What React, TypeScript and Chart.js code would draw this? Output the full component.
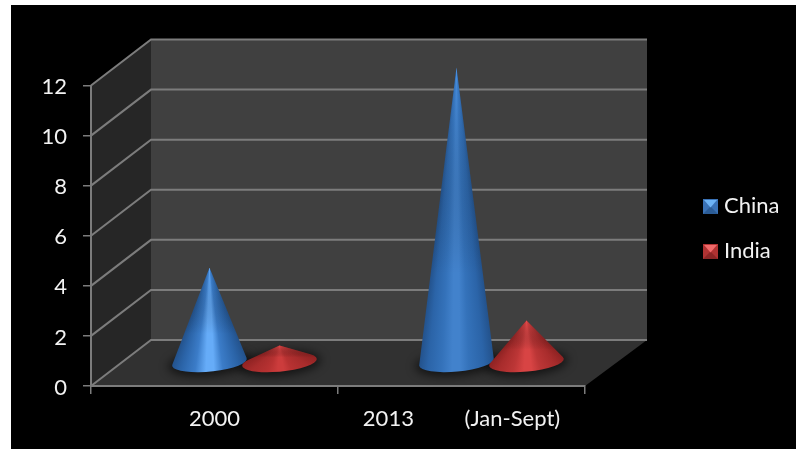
import React, { useEffect, useRef } from "react";
import { Chart, registerables } from "chart.js";

Chart.register(...registerables);

const categories = ["2000", "2013         (Jan-Sept)"];
const seriesNames = ["China", "India"];
const chinaValues = [3.8, 11.8];
const indiaValues = [0.7, 1.7];
const yTicks = [0, 2, 4, 6, 8, 10, 12];

const FONT = "Lato, 'Open Sans', sans-serif";
const FONT_SIZE = 22;
const TEXT = "#f2f2f2";
const LINE = "#7c7c7c";

// Depth of the box: how far the back wall sits from the front plane.
const DEPTH_X = 60;
const DEPTH_Y = -46;
const BACK_RIGHT = 647;

// Cone shading, one palette per series, per-category values where the sheen differs.
const palettes = [
  { edge: "#23528c", side: "#2b64a8", mid: ["#3b7cc8", "#3472ba"], hi: ["#66acf8", "#4282cc"], tip: "rgba(80,160,250,0.45)" },
  { edge: "#8e2222", side: "#a82c2c", mid: ["#b83232", "#bc3636"], hi: ["#cc3c3c", "#d84444"], tip: "rgba(250,85,85,0.55)" },
];

const ELLIPSE_TILT = -5.3 * (Math.PI / 180);
const MINOR_RATIO = 0.25;

function conePath(ctx: CanvasRenderingContext2D, tx: number, ty: number, cx: number, cy: number, a: number, b: number) {
  const cos = Math.cos(ELLIPSE_TILT);
  const sin = Math.sin(ELLIPSE_TILT);
  const dx = tx - cx;
  const dy = ty - cy;
  const lx = dx * cos + dy * sin;
  const ly = (-dx * sin + dy * cos) * (a / b);
  const phi = Math.atan2(ly, lx);
  const alpha = Math.acos(a / Math.hypot(lx, ly));
  ctx.beginPath();
  ctx.moveTo(tx, ty);
  ctx.ellipse(cx, cy, a, b, ELLIPSE_TILT, phi + alpha, phi - alpha + Math.PI * 2, false);
  ctx.closePath();
  // Directions from the apex to the two silhouette points.
  const pt = (t: number) => {
    const ex = a * Math.cos(t);
    const ey = b * Math.sin(t);
    return [cx + ex * cos - ey * sin, cy + ex * sin + ey * cos];
  };
  const r = pt(phi + alpha);
  const l = pt(phi - alpha);
  return [Math.atan2(r[1] - ty, r[0] - tx), Math.atan2(l[1] - ty, l[0] - tx)];
}

const boxPlugin = {
  id: "box",
  beforeDraw(chart: any) {
    const { ctx, chartArea: area, scales } = chart;
    const y = scales.y;
    const bottom = y.getPixelForValue(0);
    const top = y.getPixelForValue(12);
    ctx.save();
    ctx.fillStyle = "#ffffff";
    ctx.fillRect(0, 0, chart.width, chart.height);
    ctx.fillStyle = "#000000";
    ctx.fillRect(11, 5, chart.width - 11, chart.height - 5);

    const backLeft = area.left + DEPTH_X;
    ctx.fillStyle = "#262626";
    ctx.beginPath();
    ctx.moveTo(area.left, top);
    ctx.lineTo(backLeft, top + DEPTH_Y);
    ctx.lineTo(backLeft, bottom + DEPTH_Y);
    ctx.lineTo(area.left, bottom);
    ctx.closePath();
    ctx.fill();

    ctx.fillStyle = "#404040";
    ctx.fillRect(backLeft, top + DEPTH_Y, BACK_RIGHT - backLeft, bottom - top);

    ctx.fillStyle = "#313131";
    ctx.beginPath();
    ctx.moveTo(area.left, bottom);
    ctx.lineTo(backLeft, bottom + DEPTH_Y);
    ctx.lineTo(BACK_RIGHT, bottom + DEPTH_Y);
    ctx.lineTo(area.right, bottom);
    ctx.closePath();
    ctx.fill();

    ctx.strokeStyle = LINE;
    ctx.lineWidth = 2;
    yTicks.forEach((v) => {
      const p = y.getPixelForValue(v);
      ctx.beginPath();
      ctx.moveTo(area.left, p);
      ctx.lineTo(backLeft, p + DEPTH_Y);
      ctx.lineTo(BACK_RIGHT, p + DEPTH_Y);
      ctx.stroke();
    });
    ctx.restore();
  },
};

const conePlugin = {
  id: "cones",
  afterDatasetsDraw(chart: any) {
    const { ctx } = chart;
    const metas = chart.data.datasets.map((_: any, i: number) => chart.getDatasetMeta(i));
    const shift = (el: any) => {
      const a = el.width / 2;
      return {
        a,
        b: a * MINOR_RATIO,
        cx: el.x + DEPTH_X / 2,
        cy: el.base + DEPTH_Y / 2,
        tx: el.x + DEPTH_X / 2,
        ty: el.y + DEPTH_Y / 2,
      };
    };
    ctx.save();
    // Soft contact shadows go under every cone first.
    metas.forEach((meta: any) =>
      meta.data.forEach((el: any) => {
        const c = shift(el);
        ctx.save();
        ctx.filter = "blur(5px)";
        ctx.fillStyle = "rgba(0,0,0,0.6)";
        ctx.beginPath();
        ctx.ellipse(c.cx, c.cy + 1, c.a + 4, c.b + 3, ELLIPSE_TILT, 0, Math.PI * 2);
        ctx.fill();
        ctx.restore();
      })
    );
    metas.forEach((meta: any, s: number) =>
      meta.data.forEach((el: any, j: number) => {
        const c = shift(el);
        const pal = palettes[s];
        const [ar, al] = conePath(ctx, c.tx, c.ty, c.cx, c.cy, c.a, c.b);
        const span = (al - ar) / (Math.PI * 2);
        const g = (ctx as any).createConicGradient(ar, c.tx, c.ty);
        // Fractions run from the right silhouette edge round to the left one.
        g.addColorStop(0, pal.edge);
        g.addColorStop(span * 0.14, pal.side);
        g.addColorStop(span * 0.34, pal.mid[j]);
        g.addColorStop(span * 0.46, pal.hi[j]);
        g.addColorStop(span * 0.56, pal.hi[j]);
        g.addColorStop(span * 0.7, pal.mid[j]);
        g.addColorStop(span * 0.88, pal.side);
        g.addColorStop(span, pal.edge);
        g.addColorStop(Math.min(span + 0.01, 1), pal.edge);
        ctx.fillStyle = g;
        ctx.fill();
        // The surface brightens slightly towards the apex.
        const v = ctx.createLinearGradient(0, c.ty, 0, c.cy);
        v.addColorStop(0, pal.tip);
        v.addColorStop(0.7, "rgba(0,0,0,0)");
        ctx.fillStyle = v;
        ctx.fill();
      })
    );
    ctx.restore();
  },
};

const legendPlugin = {
  id: "sideLegend",
  afterDraw(chart: any) {
    const { ctx } = chart;
    const size = 15;
    const x = 703;
    const tones = [
      { top: "#6db3f5", side: "#3a72b6", bottom: "#2b5c96" },
      { top: "#f06a6a", side: "#b03232", bottom: "#8c2626" },
    ];
    ctx.save();
    chart.data.datasets.forEach((ds: any, i: number) => {
      const y = 199 + i * 45;
      const t = tones[i];
      const cx = x + size / 2;
      const cy = y + size / 2;
      ctx.fillStyle = t.side;
      ctx.fillRect(x, y, size, size);
      ctx.fillStyle = t.bottom;
      ctx.beginPath();
      ctx.moveTo(x, y + size);
      ctx.lineTo(cx, cy);
      ctx.lineTo(x + size, y + size);
      ctx.closePath();
      ctx.fill();
      ctx.fillStyle = t.top;
      ctx.beginPath();
      ctx.moveTo(x + 1, y + 1);
      ctx.lineTo(x + size - 1, y + 1);
      ctx.lineTo(cx, cy + 1);
      ctx.closePath();
      ctx.fill();
      ctx.fillStyle = TEXT;
      ctx.font = `${FONT_SIZE}px ${FONT}`;
      ctx.textAlign = "left";
      ctx.textBaseline = "middle";
      ctx.fillText(ds.label, 724, y + 7);
    });
    ctx.restore();
  },
};

export default function App() {
  const ref = useRef<HTMLCanvasElement>(null);
  useEffect(() => {
    const chart = new Chart(ref.current as HTMLCanvasElement, {
      type: "bar",
      data: {
        labels: categories,
        datasets: [
          { label: seriesNames[0], data: chinaValues, backgroundColor: "transparent", barPercentage: 1.07, categoryPercentage: 0.567 },
          { label: seriesNames[1], data: indiaValues, backgroundColor: "transparent", barPercentage: 1.07, categoryPercentage: 0.567 },
        ],
      },
      options: {
        responsive: false,
        animation: false,
        layout: { padding: { left: 0, top: 85.5, right: 211, bottom: 0 } },
        plugins: { legend: { display: false }, tooltip: { enabled: false } },
        scales: {
          x: {
            afterFit: (s: any) => {
              s.height = 63;
            },
            border: { color: LINE, width: 2 },
            grid: { drawOnChartArea: false, drawTicks: true, tickLength: 8, color: LINE, lineWidth: 1.5 },
            ticks: { color: TEXT, font: { family: FONT, size: FONT_SIZE }, padding: 12, autoSkip: false, maxRotation: 0 },
          },
          y: {
            min: 0,
            max: 12,
            afterFit: (s: any) => {
              s.width = 91;
            },
            border: { color: LINE, width: 2 },
            grid: { drawOnChartArea: false, drawTicks: true, tickLength: 8, color: LINE, lineWidth: 1.5 },
            ticks: { stepSize: 2, color: TEXT, font: { family: FONT, size: FONT_SIZE }, padding: 16, labelOffset: 1.5 },
          },
        },
      },
      plugins: [boxPlugin, conePlugin, legendPlugin],
    } as any);
    return () => chart.destroy();
  }, []);
  return (
    <div style={{ position: "absolute", left: 0, top: 0, width: 796, height: 449, overflow: "hidden" }}>
      <canvas ref={ref} width={796} height={449} style={{ display: "block" }} />
    </div>
  );
}
